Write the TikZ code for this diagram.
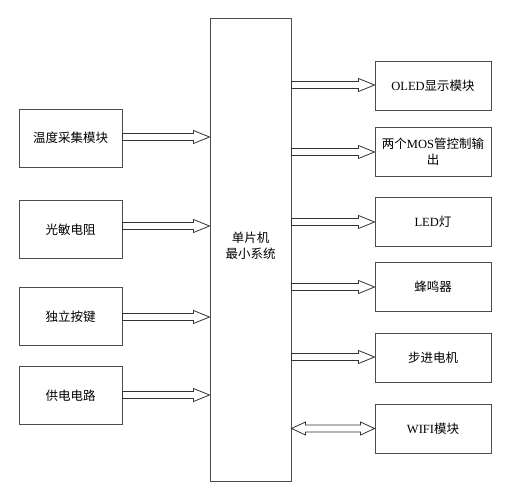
\documentclass[tikz,border=0pt]{standalone}
\usepackage{fontspec}
\setmainfont{Noto Sans CJK SC}
\newfontfamily\latin{Liberation Serif}
\usetikzlibrary{calc}

\begin{document}
\begin{tikzpicture}[x=1pt,y=-1pt,
box/.style={rectangle,draw=black!70,line width=1pt,fill=white,align=center,inner sep=2pt,font=\fontsize{12.5}{16}\selectfont},
lbox/.style={box,minimum width=103pt,minimum height=58pt},
rbox/.style={box,minimum width=116pt,minimum height=49pt},
fat/.style={draw=black!80,line width=0.8pt,fill=white,to path={let \p1=(\tikztostart),\p2=(\tikztotarget) in
   (\x1,\y1+3.5pt) -- (\x2-16pt,\y1+3.5pt) -- (\x2-16pt,\y1+6.5pt) -- (\x2,\y1)
   -- (\x2-16pt,\y1-6.5pt) -- (\x2-16pt,\y1-3.5pt) -- (\x1,\y1-3.5pt) -- cycle}},
dfat/.style={draw=black!80,line width=0.8pt,fill=white,to path={let \p1=(\tikztostart),\p2=(\tikztotarget) in
   (\x1,\y1) -- (\x1+14pt,\y1+6.5pt) -- (\x1+14pt,\y1+3.5pt) -- (\x2-14pt,\y1+3.5pt) -- (\x2-14pt,\y1+6.5pt) -- (\x2,\y1)
   -- (\x2-14pt,\y1-6.5pt) -- (\x2-14pt,\y1-3.5pt) -- (\x1+14pt,\y1-3.5pt) -- (\x1+14pt,\y1-6.5pt) -- cycle}}]
\useasboundingbox (0,0) rectangle (511,503);
\node[box,minimum width=81pt,minimum height=462pt] (mcu) at (250.5,250) {\\[-13pt]单片机\\最小系统};
% inputs
\foreach \y/\n/\t in %
{138/tmp/温度采集模块,229.5/lgt/光敏电阻,316.5/key/独立按键,395.5/pwr/供电电路} {
   \node[lbox] (\n) at (70.5,\y) {\t};
}
% outputs
\foreach \y/\n/\t in %
{86/oled/{{\latin OLED}显示模块},152/mos/{两个{\latin MOS}管控制输\\出},222/led/{{\latin LED}灯},
 287/bzr/蜂鸣器,358/stp/步进电机,428.5/wifi/{{\latin WIFI}模块}} {
   \node[rbox] (\n) at (433,\y) {\t};
}
\foreach \n/\d in {tmp/1,lgt/3.5,key/-0.5,pwr/0.5} {
   \draw[fat] ([yshift=\d pt]\n.east) to ([yshift=\d pt]\n.east -| mcu.west);
}
\foreach \n/\d in {oled/1,mos/0,led/0,bzr/0,stp/1} {
   \draw[fat] ([yshift=\d pt]\n.west -| mcu.east) to ([yshift=\d pt]\n.west);
}
\draw[dfat] (wifi.west -| mcu.east) to (wifi.west);
\end{tikzpicture}
\end{document}
